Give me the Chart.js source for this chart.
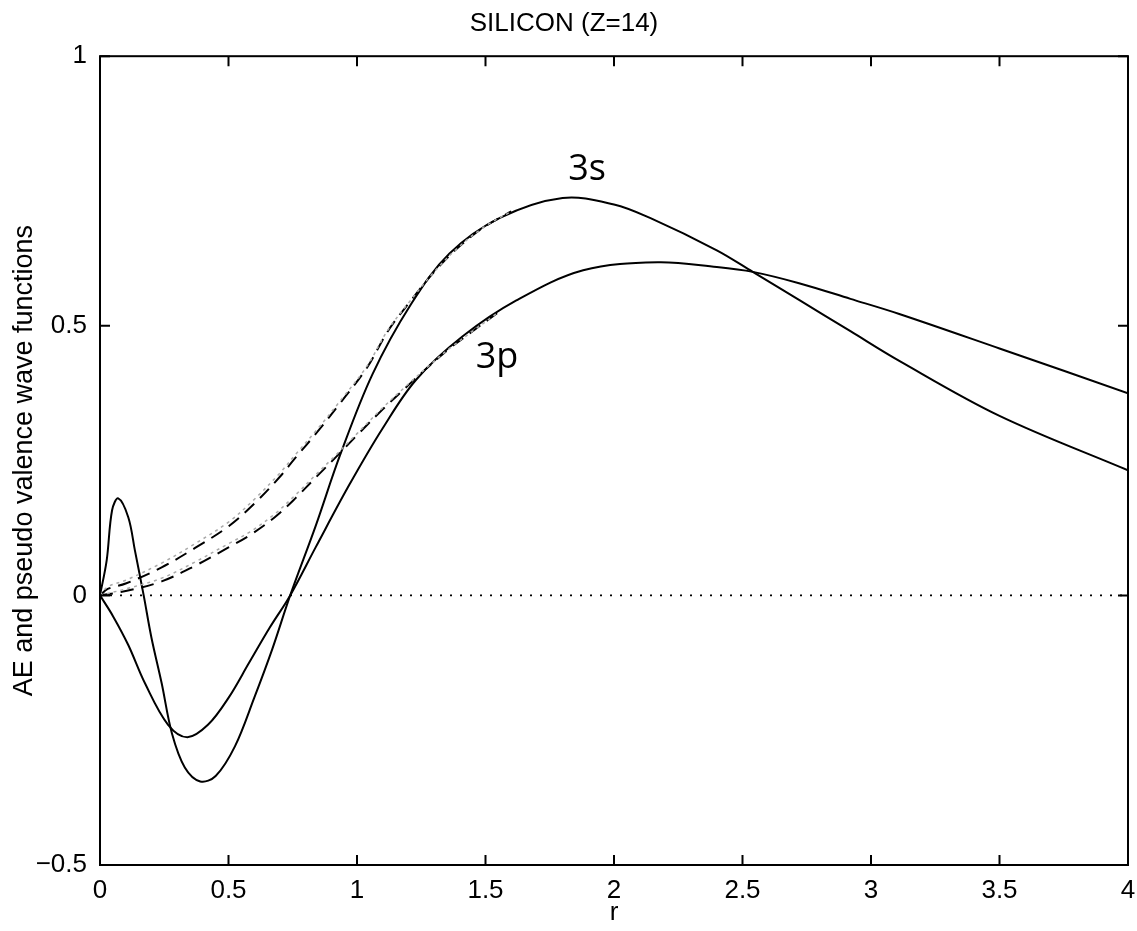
<!DOCTYPE html>
<html>
<head>
<meta charset="utf-8">
<script src="https://cdn.jsdelivr.net/npm/chart.js@4"></script>
<style>
  html, body { margin:0; padding:0; background:#fff; }
  #wrap { width:1137px; height:931px; }
</style>
</head>
<body>
<div id="wrap"><canvas id="chart"></canvas></div>
<script>
// all-electron 3s / 3p wave functions (solid)
const r3s  = [0, 0.026, 0.047, 0.071, 0.11, 0.136, 0.17, 0.20, 0.24, 0.28, 0.33, 0.39, 0.45, 0.525, 0.6, 0.67, 0.74, 0.84, 0.934, 1.06, 1.21, 1.36, 1.556, 1.8, 2.0, 2.14, 2.4, 2.54, 2.72, 2.92, 3.11, 3.5, 4];
const ae3s = [0, 0.065, 0.158, 0.18, 0.145, 0.083, 0, -0.078, -0.163, -0.256, -0.319, -0.345, -0.335, -0.28, -0.19, -0.10, 0, 0.13, 0.26, 0.41, 0.54, 0.634, 0.70, 0.737, 0.725, 0.70, 0.64, 0.60, 0.548, 0.49, 0.435, 0.333, 0.232];

const r3p  = [0, 0.05, 0.11, 0.175, 0.265, 0.34, 0.42, 0.50, 0.58, 0.66, 0.74, 0.84, 0.97, 1.10, 1.23, 1.41, 1.62, 1.88, 2.17, 2.40, 2.54, 2.72, 2.92, 3.11, 3.5, 4];
const ae3p = [0, -0.038, -0.092, -0.163, -0.24, -0.263, -0.24, -0.19, -0.125, -0.06, 0, 0.09, 0.205, 0.31, 0.40, 0.48, 0.547, 0.603, 0.618, 0.609, 0.60, 0.579, 0.55, 0.522, 0.458, 0.375];

// pseudo wave functions (dashed) and the grey dash-dot companions
const rPs    = [0, 0.03, 0.1, 0.24, 0.37, 0.5, 0.6, 0.7, 0.76, 0.84, 0.94, 1.04, 1.12, 1.21, 1.3, 1.4, 1.5, 1.6];
const ps3s   = [0, 0.012, 0.022, 0.052, 0.088, 0.128, 0.17, 0.22, 0.255, 0.30, 0.36, 0.423, 0.49, 0.547, 0.60, 0.648, 0.685, 0.712];
const grey3s = [0, 0.016, 0.028, 0.06, 0.096, 0.136, 0.178, 0.227, 0.261, 0.305, 0.364, 0.426, 0.492, 0.548, 0.60, 0.648, 0.685, 0.712];

const rPp    = [0, 0.1, 0.24, 0.37, 0.5, 0.584, 0.68, 0.76, 0.84, 0.915, 1.0, 1.10, 1.2, 1.28, 1.36, 1.45, 1.55];
const ps3p   = [0, 0.008, 0.026, 0.055, 0.089, 0.112, 0.145, 0.18, 0.219, 0.255, 0.297, 0.345, 0.39, 0.425, 0.458, 0.49, 0.525];
const grey3p = [0, 0.012, 0.032, 0.062, 0.096, 0.118, 0.151, 0.186, 0.224, 0.259, 0.30, 0.348, 0.392, 0.426, 0.458, 0.49, 0.525];

const rZero = [0, 4];
const zeroLine = [0, 0];

const xTicks = [0, 0.5, 1, 1.5, 2, 2.5, 3, 3.5, 4];
const yTicks = [-0.5, 0, 0.5, 1];

const notes = [{ text: '3s', r: 1.895, v: 0.79 }, { text: '3p', r: 1.545, v: 0.44 }];

const FONT = '"Liberation Sans", Arial, Helvetica, sans-serif';
const pts = (xs, ys) => xs.map((x, i) => ({ x, y: ys[i] }));
const line = (data, extra) => Object.assign({ data, borderColor:'#000', borderWidth:2, pointRadius:0,
    fill:false, tension:0.35 }, extra);

// box, inward ticks and the hand-written labels
const framePlugin = {
    id: 'frame',
    afterDatasetsDraw(chart) {
        const { ctx, chartArea: a, scales: { x, y } } = chart;
        ctx.save();
        ctx.strokeStyle = '#000'; ctx.lineWidth = 2;
        ctx.strokeRect(a.left, a.top, a.right - a.left, a.bottom - a.top);
        ctx.beginPath();
        xTicks.forEach(v => {
            const px = x.getPixelForValue(v);
            ctx.moveTo(px, a.bottom); ctx.lineTo(px, a.bottom - 10);
            ctx.moveTo(px, a.top); ctx.lineTo(px, a.top + 10);
        });
        yTicks.forEach(v => {
            const py = y.getPixelForValue(v);
            ctx.moveTo(a.left, py); ctx.lineTo(a.left + 10, py);
            ctx.moveTo(a.right, py); ctx.lineTo(a.right - 10, py);
        });
        ctx.stroke();
        ctx.fillStyle = '#000';
        ctx.font = '36px "Open Sans", sans-serif';
        ctx.textAlign = 'center'; ctx.textBaseline = 'middle';
        notes.forEach(n => ctx.fillText(n.text, x.getPixelForValue(n.r), y.getPixelForValue(n.v)));
        ctx.restore();
    }
};

new Chart(document.getElementById('chart'), {
    type: 'line',
    data: {
        datasets: [
            line(pts(rZero, zeroLine), { borderWidth:1.8, borderDash:[2, 8], tension:0 }),
            line(pts(rPs, grey3s), { borderColor:'#aaa', borderWidth:1.5, borderDash:[3, 4] }),
            line(pts(rPp, grey3p), { borderColor:'#aaa', borderWidth:1.5, borderDash:[3, 4] }),
            line(pts(rPs, ps3s), { borderDash:[13, 8] }),
            line(pts(rPp, ps3p), { borderDash:[13, 8] }),
            line(pts(r3s, ae3s)),
            line(pts(r3p, ae3p))
        ]
    },
    options: {
        responsive: true, maintainAspectRatio: false, animation: false,
        layout: { padding: { left:0, right:9, top:0, bottom:0 } },
        plugins: {
            legend: { display:false }, tooltip: { enabled:false },
            title: { display:true, text:'SILICON (Z=14)', color:'#000',
                font:{ family:FONT, size:26, weight:'normal' }, padding:{ top:8, bottom:17 } }
        },
        scales: {
            x: {
                type:'linear', min:0, max:4,
                grid:{ display:false }, border:{ display:false },
                afterBuildTicks: s => { s.ticks = xTicks.map(v => ({ value:v })); },
                ticks:{ color:'#000', padding:2, maxRotation:0, font:{ family:FONT, size:26 },
                    callback: v => String(v) },
                title:{ display:true, text:'r', color:'#000', font:{ family:FONT, size:26 }, padding:{ top:0, bottom:3 } },
                afterFit: s => { s.height = 66; s.paddingLeft = 0; s.paddingRight = 0; }
            },
            y: {
                type:'linear', min:-0.5, max:1,
                grid:{ display:false }, border:{ display:false },
                afterBuildTicks: s => { s.ticks = yTicks.map(v => ({ value:v })); },
                ticks:{ color:'#000', padding:5, font:{ family:FONT, size:26 },
                    callback: v => (v < 0 ? '\u2212' + Math.abs(v) : String(v)) },
                title:{ display:true, text:'AE and pseudo valence wave functions', color:'#000',
                    font:{ family:FONT, size:27 }, padding:{ top:8, bottom:0 } },
                afterFit: s => { s.width = 100; s.paddingTop = 0; s.paddingBottom = 0; }
            }
        }
    },
    plugins: [framePlugin]
});
</script>
</body>
</html>
